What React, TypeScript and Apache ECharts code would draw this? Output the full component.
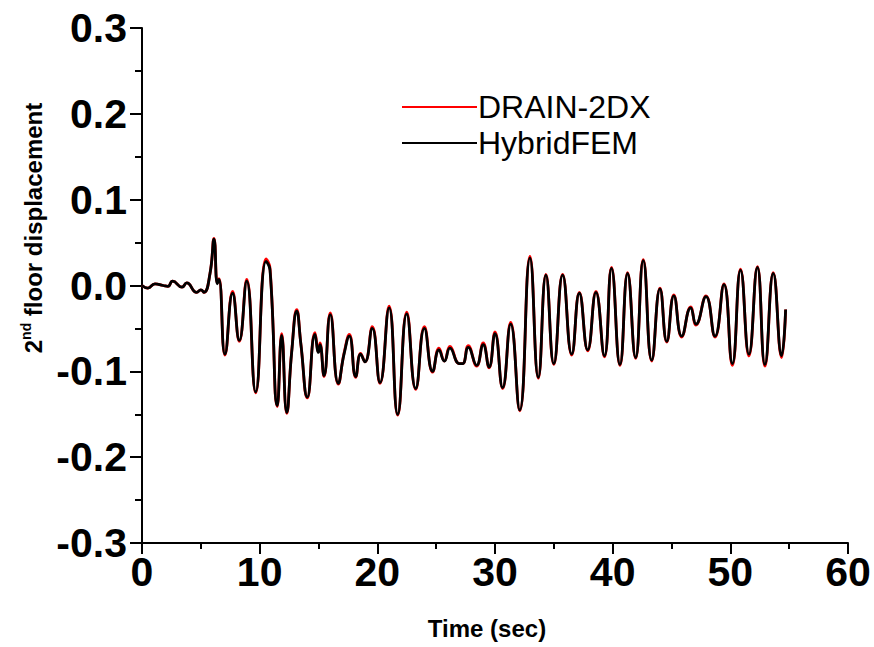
import React, { useEffect, useRef } from "react";
import * as echarts from "echarts";

const timeSec = [
  0.0, 0.5, 1.1, 1.8, 2.2, 2.6, 3.4, 3.8, 4.65, 5.0, 5.27, 5.78, 6.12, 6.4, 6.54,
  7.05, 7.7, 8.27, 8.9, 9.66, 10.54, 10.88, 11.5, 11.87, 12.3, 12.72, 13.15, 13.5,
  14.05, 14.7, 15.0, 15.13, 15.47, 16.0, 16.68, 17.17, 17.62, 18.16, 18.58, 18.95,
  19.57, 20.23, 21.0, 21.73, 22.5, 23.26, 24.0, 24.7, 25.24, 25.7, 26.17, 26.97,
  27.25, 27.73, 28.44, 29.0, 29.5, 30.0, 30.65, 31.33, 32.1, 32.97, 33.68, 34.33,
  35.0, 35.75, 36.52, 37.17, 37.88, 38.58, 39.3, 39.9, 40.62, 41.27, 41.95, 42.6,
  43.32, 44.02, 44.6, 45.2, 45.87, 46.63, 47.08, 47.93, 48.7, 49.46, 50.17, 50.87,
  51.58, 52.3, 52.94, 53.65, 54.36, 54.7,
];

const hybridFEM = [
  0.0, -0.003, 0.002, 0.0, -0.001, 0.005, -0.002, 0.003, -0.008, -0.005, -0.008, 0.014, 0.054, 0.002, 0.007,
  -0.08, -0.009, -0.064, 0.005, -0.124, 0.028, 0.018, -0.14, -0.058, -0.148, -0.078, -0.03, -0.068,
  -0.13, -0.057, -0.078, -0.069, -0.105, -0.034, -0.114, -0.08, -0.059, -0.106, -0.08, -0.089,
  -0.05, -0.113, -0.026, -0.15, -0.033, -0.12, -0.05, -0.1, -0.075, -0.088, -0.073, -0.091,
  -0.091, -0.072, -0.093, -0.069, -0.095, -0.056, -0.119, -0.045, -0.145, 0.032, -0.107, 0.012,
  -0.091, 0.012, -0.08, -0.009, -0.075, -0.008, -0.082, 0.02, -0.092, 0.014, -0.084, 0.029,
  -0.087, -0.004, -0.065, -0.012, -0.059, -0.026, -0.045, -0.013, -0.059, 0.001, -0.091, 0.018,
  -0.08, 0.021, -0.092, 0.014, -0.082, -0.028,
];

const drain2DX = [
  0.0, -0.003, 0.002, 0.0, -0.001, 0.005, -0.002, 0.003, -0.008, -0.005, -0.008, 0.014, 0.055, 0.003, 0.008,
  -0.081, -0.007, -0.065, 0.007, -0.125, 0.031, 0.020, -0.141, -0.056, -0.149, -0.077, -0.028, -0.068,
  -0.131, -0.055, -0.077, -0.067, -0.106, -0.032, -0.115, -0.079, -0.057, -0.107, -0.079, -0.089,
  -0.048, -0.114, -0.024, -0.151, -0.031, -0.121, -0.048, -0.101, -0.073, -0.088, -0.071, -0.091,
  -0.091, -0.070, -0.094, -0.067, -0.096, -0.054, -0.120, -0.043, -0.146, 0.034, -0.108, 0.013,
  -0.092, 0.013, -0.081, -0.008, -0.076, -0.007, -0.083, 0.021, -0.093, 0.015, -0.085, 0.030,
  -0.088, -0.003, -0.066, -0.011, -0.060, -0.025, -0.046, -0.012, -0.060, 0.002, -0.093, 0.019,
  -0.082, 0.022, -0.094, 0.015, -0.084, -0.028,
];

const seriesNames = ["DRAIN-2DX", "HybridFEM"];
const xTickValues = [0, 10, 20, 30, 40, 50, 60];
const yTickValues = [-0.3, -0.2, -0.1, 0.0, 0.1, 0.2, 0.3];

export default function App() {
  const ref = useRef<HTMLDivElement>(null);

  useEffect(() => {
    if (!ref.current) return;
    const chart = echarts.init(ref.current, null, { renderer: "svg" });
    const tickFont = {
      fontFamily: "Liberation Sans",
      fontWeight: "bold" as const,
      fontSize: 41,
      color: "#000",
    };
    chart.setOption({
      animation: false,
      backgroundColor: "#fff",
      grid: { left: 142, right: 26, top: 28, bottom: 104, containLabel: false },
      legend: {
        orient: "vertical",
        left: 397,
        top: 86,
        itemWidth: 75,
        itemHeight: 2,
        itemGap: 4,
        icon: "rect",
        data: seriesNames,
        textStyle: {
          fontFamily: "Liberation Sans",
          fontSize: 32,
          lineHeight: 32,
          color: "#000",
          padding: [0, 0, 0, -4],
        },
      },
      xAxis: {
        type: "value",
        min: xTickValues[0],
        max: xTickValues[xTickValues.length - 1],
        interval: 10,
        name: "Time (sec)",
        nameLocation: "middle",
        nameGap: 73,
        nameTextStyle: {
          fontFamily: "Liberation Sans",
          fontWeight: "bold",
          fontSize: 24,
          color: "#000",
          padding: [0, 16, 0, 0],
        },
        axisLine: { show: true, onZero: false, lineStyle: { color: "#000", width: 2 } },
        axisTick: { show: true, inside: false, length: 11, lineStyle: { color: "#000", width: 2 } },
        minorTick: { show: true, splitNumber: 2, length: 6, lineStyle: { color: "#000", width: 2 } },
        axisLabel: { ...tickFont, margin: 8 },
        splitLine: { show: false },
      },
      yAxis: {
        type: "value",
        min: yTickValues[0],
        max: yTickValues[yTickValues.length - 1],
        interval: 0.1,
        axisLine: { show: true, onZero: false, lineStyle: { color: "#000", width: 2 } },
        axisTick: { show: true, inside: false, length: 12, lineStyle: { color: "#000", width: 2 } },
        minorTick: { show: true, splitNumber: 2, length: 7, lineStyle: { color: "#000", width: 2 } },
        axisLabel: {
          ...tickFont,
          margin: 15,
          formatter: (v: number) => v.toFixed(1),
        },
        splitLine: { show: false },
      },
      graphic: [
        {
          type: "text",
          x: 32,
          y: 228,
          rotation: Math.PI / 2,
          silent: true,
          style: {
            text: "{b|2}{s|nd}{b| floor displacement}",
            align: "center",
            verticalAlign: "middle",
            rich: {
              b: {
                fontFamily: "Liberation Sans",
                fontWeight: "bold",
                fontSize: 24,
                fill: "#000",
                verticalAlign: "bottom",
                lineHeight: 26,
              },
              s: {
                fontFamily: "Liberation Sans",
                fontWeight: "bold",
                fontSize: 14,
                fill: "#000",
                verticalAlign: "top",
                lineHeight: 26,
              },
            },
          },
        },
      ],
      series: [
        {
          name: seriesNames[0],
          type: "line",
          data: timeSec.map((t, i) => [t, drain2DX[i]]),
          showSymbol: false,
          smooth: 0.5,
          itemStyle: { color: "#ff0000" },
          lineStyle: { color: "#ff0000", width: 2.8 },
          z: 2,
        },
        {
          name: seriesNames[1],
          type: "line",
          data: timeSec.map((t, i) => [t, hybridFEM[i]]),
          showSymbol: false,
          smooth: 0.5,
          itemStyle: { color: "#000000" },
          lineStyle: { color: "#000000", width: 2.8 },
          z: 3,
        },
      ],
    });
    return () => chart.dispose();
  }, []);

  return <div ref={ref} style={{ width: 874, height: 647, position: "absolute", left: 0, top: 0 }} />;
}
